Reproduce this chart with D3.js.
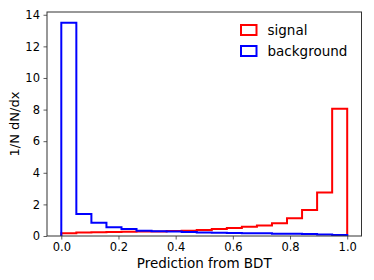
<!DOCTYPE html>
<html>
<head>
<meta charset="utf-8">
<script src="https://cdn.jsdelivr.net/npm/d3@7"></script>
<style>
  body { margin: 0; background: white; }
  svg { font-family: 'DejaVu Sans', sans-serif; }
</style>
</head>
<body>
<svg id="chart" width="374" height="280"></svg>
<script>
// 19 equal bins on [0, 1]
var binEdges = d3.range(20).map(function(k){ return k / 19; });
var signalValues = [0.17, 0.22, 0.24, 0.25, 0.27, 0.28, 0.29, 0.31, 0.34, 0.38,
                    0.44, 0.51, 0.58, 0.67, 0.80, 1.12, 1.64, 2.76, 8.06];
var backgroundValues = [13.5, 1.39, 0.84, 0.55, 0.44, 0.33, 0.30, 0.28, 0.25, 0.22,
                        0.20, 0.19, 0.18, 0.17, 0.15, 0.14, 0.12, 0.10, 0.06];
var xTicks = [0, 0.2, 0.4, 0.6, 0.8, 1.0];
var yTicks = [0, 2, 4, 6, 8, 10, 12, 14];
var seriesNames = ['signal', 'background'];
var seriesColors = ['red', 'blue'];

var svg = d3.select('#chart');
// plot box (note: 'top' is taken by window.top)
var plotL = 47, plotR = 361.5, plotT = 12, plotB = 236;

var x = d3.scaleLinear().domain([-0.05, 1.05]).range([plotL, plotR]);
var y = d3.scaleLinear().domain([0, 13.5 * 1.05]).range([plotB, plotT]);

// step outline like histtype='step'
function stepPoints(values){
  var pts = [[binEdges[0], 0]];
  values.forEach(function(v, i){
    pts.push([binEdges[i], v]);
    pts.push([binEdges[i + 1], v]);
  });
  pts.push([binEdges[binEdges.length - 1], 0]);
  return pts;
}
var line = d3.line().x(function(d){ return x(d[0]); }).y(function(d){ return y(d[1]); });

[signalValues, backgroundValues].forEach(function(vals, i){
  svg.append('path').attr('d', line(stepPoints(vals)))
    .attr('fill', 'none').attr('stroke', seriesColors[i])
    .attr('stroke-width', 2).attr('stroke-linejoin', 'miter');
});

// Spines
svg.append('rect').attr('x', plotL).attr('y', plotT).attr('width', plotR - plotL).attr('height', plotB - plotT)
  .attr('fill', 'none').attr('stroke', '#333').attr('stroke-width', 1);

// Axes
var xAxis = svg.append('g').attr('transform', 'translate(0,' + plotB + ')')
  .call(d3.axisBottom(x).tickValues(xTicks).tickFormat(d3.format('.1f')).tickSize(3.5).tickPadding(3.5));
var yAxis = svg.append('g').attr('transform', 'translate(' + plotL + ',0)')
  .call(d3.axisLeft(y).tickValues(yTicks).tickFormat(d3.format('d')).tickSize(3.5).tickPadding(3.5));
[xAxis, yAxis].forEach(function(g){
  g.select('.domain').remove();
  g.selectAll('line').attr('stroke', '#333').attr('stroke-width', 0.8);
  g.selectAll('text').attr('font-family', 'DejaVu Sans').attr('font-size', 11.5).attr('fill', 'black');
});

// Axis labels
svg.append('text').attr('x', (plotL + plotR) / 2).attr('y', 268)
  .attr('text-anchor', 'middle').attr('font-size', 13.5).text('Prediction from BDT');
svg.append('text').attr('transform', 'translate(19,124) rotate(-90)')
  .attr('text-anchor', 'middle').attr('font-size', 13).text('1/N dN/dx');

// Legend
var legend = svg.append('g').attr('transform', 'translate(241,25)');
seriesNames.forEach(function(name, i){
  var row = legend.append('g').attr('transform', 'translate(0,' + (i * 21) + ')');
  row.append('rect').attr('width', 15.5).attr('height', 10)
    .attr('fill', 'none').attr('stroke', seriesColors[i]).attr('stroke-width', 2);
  row.append('text').attr('x', 26.5).attr('y', 10).attr('font-size', 13.5).text(name);
});
</script>
</body>
</html>
